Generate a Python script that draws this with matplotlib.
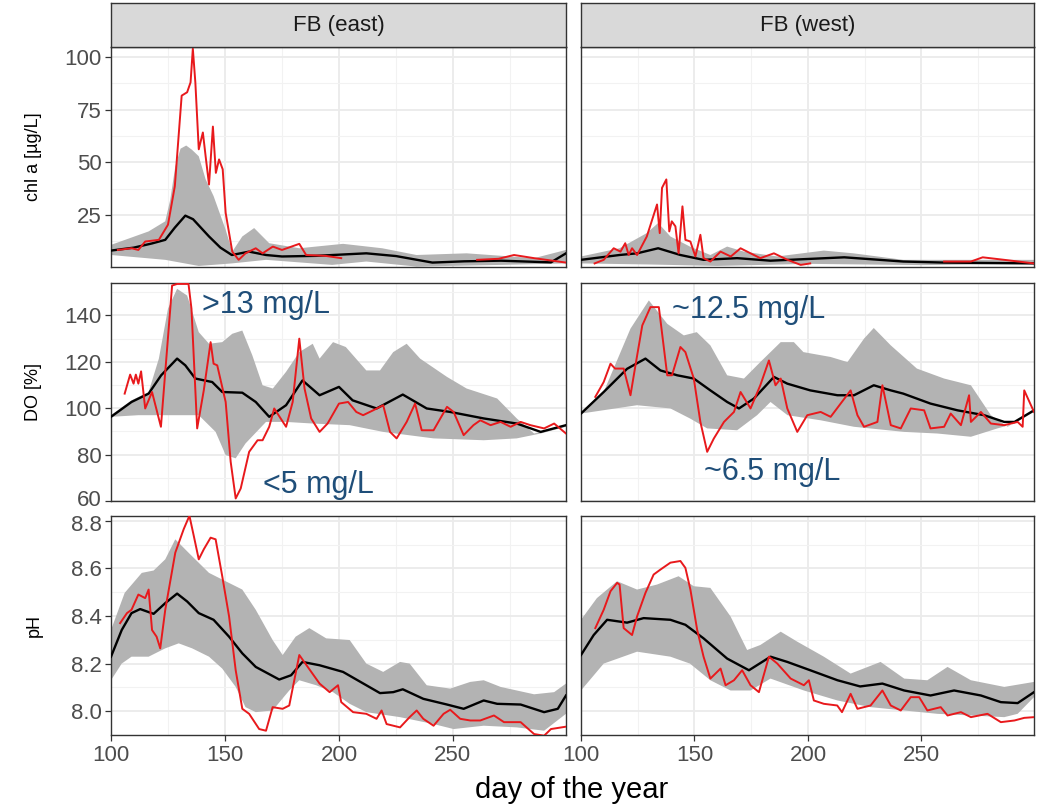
import numpy as np
import matplotlib
matplotlib.use("Agg")
import matplotlib.pyplot as plt
from matplotlib.ticker import FixedLocator
from matplotlib.transforms import ScaledTranslation

plt.rcParams['font.family'] = ['Liberation Sans', 'DejaVu Sans']

sites = ['FB (east)', 'FB (west)']
var_labels = ['chl a [µg/L]', 'DO [%]', 'pH']

# (day, value) pairs; None breaks a line
chl_east_upper = [(100, 10.8), (116.5, 17.2), (123.8, 22), (126, 32.3), (128.2, 48), (130.5, 56.5), (133, 58),
                  (135.5, 56), (138.5, 52.9), (141.5, 42), (145, 34), (150.3, 18), (153.2, 7.6), (157.6, 14.8),
                  (162.8, 18.8), (169.4, 11.6), (182.6, 9.2), (201.8, 11.3), (219, 9.2), (234, 6), (256, 6.8),
                  (285.6, 4.5), (299.6, 8.4)]
chl_east_lower = [(100, 6), (123.8, 3.7), (138.5, 0.8), (153, 2), (168, 3.7), (197, 1.3), (212, 2.9),
                  (234, 0.5), (271, 1.3), (299.6, 2)]
chl_east_mean = [(100, 8.1), (110, 9.5), (118, 11.5), (123.8, 13.2), (128, 19), (132.6, 24.7), (136, 23),
                 (143, 14.8), (148, 9.5), (153, 6), (160.6, 7.6), (168, 6), (175, 5.3), (190, 5.6), (212, 6.8),
                 (225, 5.5), (241, 2.4), (255, 3), (271, 3.3), (293, 2.5), (299.6, 6.8)]
chl_east_obs = [(103, 8.4), (109, 9.2), (112, 8.4), (115, 12.4), (121, 13.2), (125, 20.4), (128, 38.7),
                (131, 81.7), (133.4, 83.3), (134.9, 88), (135.9, 104), (137, 88), (138.5, 56.2), (140.3, 64.2),
                (141.5, 53), (143, 39.5), (144.7, 67), (146, 45), (147.4, 51.4), (149, 46.7), (150.3, 26),
                (153.2, 7.6), (156, 3.7), (159, 6.8), (163.5, 9.2), (166.5, 6.8), (171, 10), (175, 8.4),
                (182.6, 11.3), (185.6, 6), (194, 5.6), (201, 4.5), (230, None), (260.6, 3.7), (270, 4.2),
                (276.8, 6), (285.6, 4.5), (299.6, 2.4)]

chl_west_upper = [(100, 5.3), (117, 9.2), (129, 16.4), (134, 21.2), (139.4, 14.8), (148, 10), (157, 6),
                  (164.4, 10), (171.8, 7.6), (186.5, 5.3), (207, 8.1), (220, 6.8), (242, 3.7), (299.6, 3.7)]
chl_west_lower = [(100, 2), (130, 1.5), (160, 0.8), (200, 1.8), (250, 1.2), (299.6, 1.8)]
chl_west_mean = [(100, 3.7), (117, 6), (124.7, 6.8), (134, 9.2), (143.8, 6), (154, 3.7), (168.8, 4.5),
                 (183.5, 3.3), (216, 4.9), (242, 2.9), (260, 2.4), (299.6, 2)]
chl_west_obs = [(106, 2), (110, 3.7), (114.4, 9.2), (117.4, 7.6), (119.5, 11.6), (121, 6), (122.5, 9.2),
                (124.7, 6), (129, 14.8), (133.5, 30), (134.7, 16.4), (135.7, 37.9), (137.6, 41.9), (138.9, 17.2),
                (140, 22), (141.6, 19.6), (143, 6.8), (144.7, 29.1), (146, 13.2), (148.2, 12.4), (150.4, 5.3),
                (152.6, 15.6), (154, 4.5), (157, 2.9), (161.5, 7.6), (166, 5.3), (170.3, 9.2), (174.7, 6.8),
                (179, 4.5), (185, 6.8), (191, 3.7), (196.8, 1.3), (201, 2), (230, None), (260, 2.9),
                (271.8, 2.9), (277, 4.9), (286.5, 3.7), (299.6, 2)]

do_east_upper = [(100, 97), (109, 103.4), (116.5, 107), (121, 121.4), (125, 142.9), (129, 151.5), (133.4, 148.6),
                 (138.5, 132.8), (143, 127.8), (148.8, 128.5), (153.2, 132.1), (157.6, 133.5), (162, 122.8),
                 (166.5, 109.9), (171, 108.5), (176.8, 115.7), (182.6, 124.2), (188.5, 127.8), (191.5, 121.4),
                 (197.4, 128.5), (203, 126.4), (212, 116.3), (218, 116.3), (223.8, 124.2), (229.7, 127.8),
                 (235.6, 121.4), (247.4, 113.5), (256, 108.5), (269.4, 104.2), (278, 95.6), (285.6, 89.1),
                 (299.6, 92.7)]
do_east_lower = [(100, 96.3), (112, 97), (123.8, 97), (138.5, 97), (145.9, 89.8), (150.3, 79.8), (154.7, 78.4),
                 (159, 84.8), (168, 94.1), (176.8, 94.1), (188.5, 93.4), (204.7, 92.7), (219.4, 89.8),
                 (241.5, 87), (263.5, 86.2), (278, 87), (288.5, 89.1), (299.6, 92)]
do_east_mean = [(100, 96.3), (109, 102.7), (116.5, 106.3), (122, 114.2), (129, 121.4), (132.6, 118.5),
                (137, 112.8), (144.4, 111.3), (148.8, 107), (157.6, 106.7), (163.5, 102.7), (169.4, 96.3),
                (176.8, 101.3), (184, 112), (191.5, 105.6), (200, 109.2), (206, 103.4), (216.5, 99.9),
                (228, 105.9), (238.5, 99.9), (248.8, 98.4), (263.5, 95.6), (278, 93.4), (288.5, 89.8),
                (299.6, 92.7)]
do_east_obs = [(106, 106.3), (108.4, 114.5), (109.9, 110.6), (110.9, 114.5), (112, 110.6), (113.2, 115.9),
               (115, 99.9), (118, 107), (121.9, 92), (126.8, 152.9), (129, 153.6), (134, 153.6), (135.3, 142.9),
               (137.8, 91.3), (140.7, 107.7), (143.7, 128.5), (145, 119.2), (146.6, 118.5), (150.3, 102.7),
               (152.5, 76.9), (154.7, 61.1), (156.9, 65.4), (160.6, 81.2), (164.3, 86.2), (166.5, 86.2),
               (169.4, 92), (171.6, 99.9), (176.8, 92), (179.7, 102.7), (182.6, 130), (184.9, 108.5),
               (187.8, 95.6), (191.5, 89.8), (195, 93.4), (200, 102), (204, 102.7), (207.6, 98.4), (210.6, 97),
               (215, 99.1), (219.4, 101.3), (222.4, 89.8), (225.3, 87), (229.7, 94.1), (233.4, 102),
               (236.3, 90.5), (241.5, 90.5), (247.4, 100.6), (250.3, 98.4), (254.7, 88.4), (259, 92.7),
               (262, 94.8), (266.5, 92.7), (270.9, 94.1), (275.3, 92), (279.7, 94.1), (284, 92.7),
               (290, 91.3), (294.4, 93.4), (299.6, 89.1)]

do_west_upper = [(100, 98.4), (110, 107), (121.8, 134.3), (129.9, 146.5), (138, 136.4), (145.3, 131.4),
                 (151, 132.8), (157, 127.1), (164.4, 114.2), (171.8, 112.8), (179, 119.9), (188, 128.5),
                 (193.8, 128.5), (198, 124.2), (210, 122.1), (217.4, 119.9), (224.7, 130), (229, 134.6),
                 (236.5, 127.1), (248, 117.1), (260, 112.8), (271.8, 109.9), (280.6, 97), (288, 92),
                 (299.6, 99.1)]
do_west_lower = [(100, 97.7), (124.7, 101.3), (139.4, 99.9), (148, 95.6), (155.6, 91.3), (168.8, 90.5),
                 (177.6, 97), (183.5, 102.7), (191, 97), (205.6, 94.8), (220.3, 92), (242.4, 89.8),
                 (257, 89.1), (271.8, 87.7), (283.5, 91.3), (291, 93.4), (299.6, 98.4)]
do_west_mean = [(100, 97.7), (110, 107), (120.3, 117), (128.4, 121.4), (135, 116.3), (142.4, 114.2),
                (149.7, 112.8), (157, 107.7), (164.4, 102.7), (169.6, 99.9), (176.2, 104.2), (185, 113.5),
                (190.9, 110.6), (201, 107.7), (213, 105.6), (220.3, 105.6), (229, 109.9), (236.5, 107.7),
                (242, 106.3), (254, 102), (265.9, 99.1), (277.6, 97), (286.5, 94.1), (291, 94.1),
                (299.6, 99.1)]
do_west_obs = [(106.3, 104.9), (110, 111.3), (113, 119.2), (115, 117.1), (118.8, 117.1), (121.8, 105.6),
               (124, 118.5), (127, 135.7), (130.6, 143.6), (134.3, 143.6), (138, 114.2), (140.1, 114.2),
               (143.8, 126.4), (146, 124.2), (149.7, 112.8), (152.6, 94.1), (155.6, 81.2), (158.5, 86.9),
               (163, 94.1), (167.4, 98.4), (170.3, 107), (174.7, 99.9), (179, 109.9), (182.8, 120.6),
               (185.7, 109.9), (188, 112.8), (190.9, 99.9), (195.3, 89.8), (199.7, 97), (205.6, 98.4),
               (210, 96.3), (214.4, 102), (218.8, 107.7), (221.8, 97), (224.7, 92), (230.6, 94.1),
               (232.8, 109.9), (236.5, 92.7), (240.9, 91.3), (245.3, 99.9), (251.2, 99.1), (254, 91.3),
               (260, 92), (262.9, 97.7), (267.4, 92.7), (271, 105.6), (271.8, 94.1), (276.2, 98.4),
               (280.6, 93.4), (286.5, 92.7), (292.4, 94.1), (294.6, 92), (295.3, 107.7), (299.6, 98.4)]

ph_east_upper = [(100, 8.341), (106, 8.497), (113.5, 8.581), (118.7, 8.591), (123.8, 8.638), (128.2, 8.722),
                 (134, 8.666), (143, 8.581), (148.8, 8.553), (153.2, 8.532), (157.6, 8.511), (163.5, 8.426),
                 (170.9, 8.299), (175.3, 8.236), (181, 8.313), (187, 8.349), (194.4, 8.306), (204.7, 8.299),
                 (212, 8.2), (219.4, 8.165), (226.8, 8.207), (231, 8.2), (238.5, 8.109), (248.8, 8.095),
                 (257.6, 8.123), (263.5, 8.13), (270.9, 8.102), (285.6, 8.071), (294.4, 8.08), (299.6, 8.116)]
ph_east_lower = [(100, 8.13), (104.7, 8.2), (109, 8.229), (116.5, 8.229), (123.8, 8.264), (129.7, 8.285),
                 (135.6, 8.264), (143, 8.229), (148.8, 8.179), (154.7, 8.102), (159, 8.017), (163.5, 7.996),
                 (170.9, 8.003), (178.2, 8.087), (182.6, 8.13), (190, 8.109), (197.4, 8.08), (204.7, 8.031),
                 (212, 7.996), (226.8, 7.975), (241.5, 7.946), (250.3, 7.925), (263.5, 7.939), (278, 7.932),
                 (290, 7.918), (299.6, 7.989)]
ph_east_mean = [(100, 8.229), (104.7, 8.341), (109, 8.412), (112.8, 8.429), (118.7, 8.409), (123.8, 8.454),
                (129, 8.494), (133.4, 8.461), (138.5, 8.412), (145, 8.384), (151.8, 8.313), (157.6, 8.243),
                (163.5, 8.186), (173.8, 8.133), (179, 8.151), (184, 8.207), (191.5, 8.193), (201.8, 8.165),
                (212, 8.109), (218, 8.076), (223.8, 8.08), (228, 8.092), (237, 8.052), (247.4, 8.028),
                (254.7, 8.01), (263.5, 8.045), (269.4, 8.031), (279.7, 8.028), (290, 7.996), (296, 8.01),
                (299.6, 8.066)]
ph_east_obs = [(104, 8.37), (107, 8.412), (109, 8.426), (112, 8.49), (115, 8.475), (116.5, 8.511),
               (118, 8.341), (120, 8.313), (121.6, 8.264), (123.8, 8.426), (128.2, 8.666), (131.9, 8.765),
               (134.4, 8.821), (136.3, 8.737), (138.5, 8.638), (140.7, 8.68), (143.7, 8.729), (145.9, 8.722),
               (148.8, 8.567), (151.8, 8.398), (154.7, 8.172), (157.6, 8.01), (160.6, 7.989), (165, 7.925),
               (168, 7.918), (170.9, 8.017), (175.3, 8.01), (178.2, 8.024), (182.6, 8.236), (186.3, 8.186),
               (191.5, 8.116), (195.9, 8.08), (199.6, 8.109), (201, 8.038), (206.2, 7.996), (212, 7.989),
               (216.5, 7.968), (218.7, 8.003), (220.9, 7.946), (226.8, 7.932), (231, 7.975), (234.1, 8.003),
               (237, 7.968), (241.5, 7.939), (245.9, 7.989), (248.8, 8.006), (253.2, 7.968), (257.6, 7.961),
               (262, 7.961), (268, 7.982), (272.4, 7.954), (279.7, 7.954), (285.6, 7.904), (290, 7.897),
               (293, 7.925), (299.6, 7.935)]

ph_west_upper = [(100, 8.384), (107, 8.475), (115.9, 8.546), (124.7, 8.511), (133.5, 8.532), (143, 8.567),
                 (149.7, 8.525), (157, 8.518), (165.9, 8.398), (173.2, 8.257), (179, 8.278), (188, 8.334),
                 (195.3, 8.292), (207, 8.229), (218.8, 8.158), (232, 8.207), (242.4, 8.137), (252.6, 8.13),
                 (261.5, 8.186), (271.8, 8.13), (286.5, 8.102), (299.6, 8.123)]
ph_west_lower = [(100, 8.087), (110, 8.2), (124.7, 8.25), (139.4, 8.229), (148, 8.2), (157, 8.13),
                 (165.9, 8.087), (174.7, 8.087), (183.5, 8.137), (198.2, 8.087), (213, 8.045), (227.6, 8.017),
                 (242.4, 8.003), (257, 7.989), (271.8, 7.982), (286.5, 7.975), (292.4, 7.989), (299.6, 8.059)]
ph_west_mean = [(100, 8.236), (105.6, 8.32), (111.5, 8.384), (120.3, 8.372), (127.6, 8.391), (139.4, 8.384),
                (146, 8.363), (154, 8.306), (164.4, 8.221), (174, 8.172), (183.5, 8.229), (190.9, 8.207),
                (201, 8.172), (213, 8.13), (223, 8.104), (232.8, 8.116), (242.4, 8.087), (254, 8.066),
                (264.4, 8.087), (276.2, 8.066), (285, 8.038), (292.4, 8.034), (299.6, 8.08)]
ph_west_obs = [(106.3, 8.349), (110, 8.426), (113, 8.504), (115.9, 8.539), (117, 8.532), (118.8, 8.349),
               (122.5, 8.32), (124.7, 8.398), (128.4, 8.497), (132, 8.574), (135, 8.595), (139.4, 8.624),
               (143.8, 8.631), (146, 8.602), (148.2, 8.511), (151.2, 8.341), (154, 8.229), (157, 8.137),
               (161.5, 8.179), (163.7, 8.109), (167.4, 8.13), (171, 8.172), (174.7, 8.109), (178.4, 8.08),
               (182.8, 8.229), (186.5, 8.2), (192.4, 8.137), (198.2, 8.109), (200.4, 8.13), (202.6, 8.045),
               (207, 8.031), (212.9, 8.024), (215, 7.996), (218.8, 8.073), (221.8, 8.01), (227.6, 8.024),
               (232.8, 8.087), (236.5, 8.024), (240.9, 8.003), (245.3, 8.059), (249, 8.059), (252.6, 8.003),
               (258.5, 8.017), (261.5, 7.982), (267.4, 7.996), (271.8, 7.975), (279.1, 7.989), (285, 7.954),
               (291, 7.961), (295.3, 7.972), (299.6, 7.975)]

panels = [
    [(chl_east_upper, chl_east_lower, chl_east_mean, chl_east_obs),
     (chl_west_upper, chl_west_lower, chl_west_mean, chl_west_obs)],
    [(do_east_upper, do_east_lower, do_east_mean, do_east_obs),
     (do_west_upper, do_west_lower, do_west_mean, do_west_obs)],
    [(ph_east_upper, ph_east_lower, ph_east_mean, ph_east_obs),
     (ph_west_upper, ph_west_lower, ph_west_mean, ph_west_obs)],
]

y_limits = [(0.3, 104.8), (60, 154), (7.90, 8.82)]
y_major = [[25, 50, 75, 100], [60, 80, 100, 120, 140], [8.0, 8.2, 8.4, 8.6, 8.8]]
y_minor = [[12.5, 37.5, 62.5, 87.5], [70, 90, 110, 130, 150], [7.9, 8.1, 8.3, 8.5, 8.7]]
y_fmt = ['{:.0f}', '{:.0f}', '{:.1f}']
x_major = [100, 150, 200, 250]
x_minor = [125, 175, 225, 275]

# DO annotations: (column, day, value, text)
do_notes = [(0, 140, 144.6, '>13 mg/L'), (0, 166.5, 66.9, '<5 mg/L'),
            (1, 140.1, 142.2, '~12.5 mg/L'), (1, 154.1, 72.6, '~6.5 mg/L')]

W, H = 1043, 809
fig = plt.figure(figsize=(W / 100, H / 100), dpi=100)

col_x = [(111, 566), (581, 1034)]
row_y = [(47, 267), (283, 501), (516, 735)]


def arr(pairs):
    a = np.array(pairs, dtype=float)
    return a[:, 0], a[:, 1]


def px_rect(x0, x1, y0, y1):
    return [x0 / W, 1 - y1 / H, (x1 - x0) / W, (y1 - y0) / H]


axes = {}
for r in range(3):
    for c in range(2):
        ax = fig.add_axes(px_rect(col_x[c][0], col_x[c][1], row_y[r][0], row_y[r][1]))
        axes[(r, c)] = ax
        upper, lower, mean, obs = panels[r][c]
        xu, yu = arr(upper)
        xl, yl = arr(lower)
        ax.fill(np.concatenate([xu, xl[::-1]]), np.concatenate([yu, yl[::-1]]),
                color='#b3b3b3', lw=0, zorder=2)
        xm, ym = arr(mean)
        ax.plot(xm, ym, color='black', lw=1.7, zorder=3, solid_joinstyle='round')
        xo, yo = arr(obs)
        ax.plot(xo, yo, color='#e8191c', lw=1.4, zorder=4)

        ax.set_xlim(100, 299.6)
        ax.set_ylim(*y_limits[r])
        ax.xaxis.set_major_locator(FixedLocator(x_major))
        ax.xaxis.set_minor_locator(FixedLocator(x_minor))
        ax.yaxis.set_major_locator(FixedLocator(y_major[r]))
        ax.yaxis.set_minor_locator(FixedLocator(y_minor[r]))
        ax.grid(which='major', color='#ebebeb', lw=1.3, zorder=0)
        ax.grid(which='minor', color='#f2f2f2', lw=0.8, zorder=0)
        ax.set_axisbelow(True)
        for sp in ax.spines.values():
            sp.set_color('#333333')
            sp.set_linewidth(1.0)
        ax.tick_params(which='minor', length=0)
        ax.tick_params(which='major', length=4.5, width=0.9, color='#333333',
                       labelsize=16, labelcolor='#4d4d4d', pad=2)
        if c == 0:
            ax.set_yticklabels([y_fmt[r].format(v) for v in y_major[r]])
        else:
            ax.tick_params(axis='y', length=0, labelleft=False)
        if r == 2:
            ax.set_xticklabels([str(v) for v in x_major])
            ax.tick_params(axis='x', pad=3)
        else:
            ax.tick_params(axis='x', length=0, labelbottom=False)

# the DO "60" and pH "8.8" labels sit close together; nudge them apart a little
lab60 = axes[(1, 0)].yaxis.get_major_ticks()[0].label1
lab60.set_transform(lab60.get_transform() + ScaledTranslation(0, 3 / 100, fig.dpi_scale_trans))
lab88 = axes[(2, 0)].yaxis.get_major_ticks()[-1].label1
lab88.set_transform(lab88.get_transform() + ScaledTranslation(0, -2 / 100, fig.dpi_scale_trans))

for c, day, val, txt in do_notes:
    axes[(1, c)].text(day, val, txt, color='#1f4e79', fontsize=22, ha='left', va='center', zorder=6)

# facet strips
for c in range(2):
    sax = fig.add_axes(px_rect(col_x[c][0], col_x[c][1], 3, 47))
    sax.set_facecolor('#d9d9d9')
    sax.set_xticks([])
    sax.set_yticks([])
    for sp in sax.spines.values():
        sp.set_color('#333333')
        sp.set_linewidth(1.0)
    sax.text(0.5, 0.5, sites[c], ha='center', va='center', fontsize=16, color='#1a1a1a',
             transform=sax.transAxes)

# row titles and x title
for r in range(3):
    yc = (row_y[r][0] + row_y[r][1]) / 2
    fig.text(34 / W, 1 - yc / H, var_labels[r], rotation=90, ha='center', va='center',
             fontsize=13, color='black')
fig.text(572 / W, 1 - 790 / H, 'day of the year', ha='center', va='center', fontsize=21, color='black')

fig.savefig('out.png', dpi=100)
